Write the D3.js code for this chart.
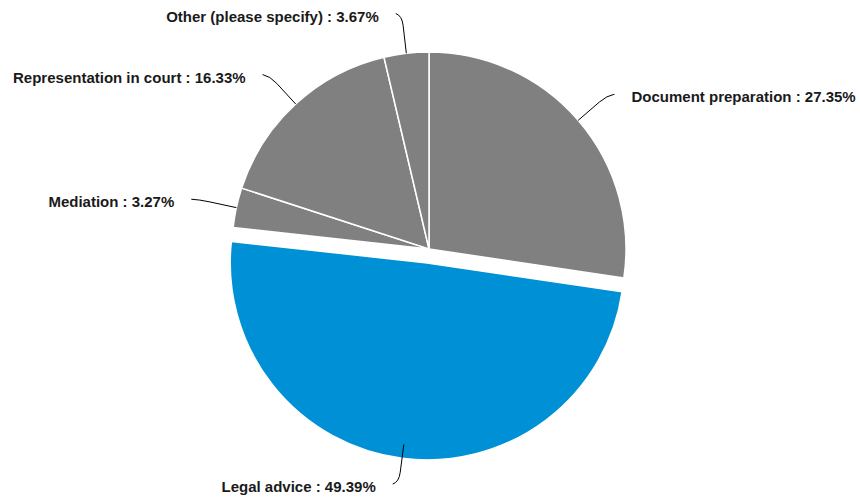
<!DOCTYPE html>
<html>
<head>
<meta charset="utf-8">
<script src="https://cdn.jsdelivr.net/npm/d3@7"></script>
<style>
  html, body { margin: 0; padding: 0; background: #fff; }
  svg text { font-family: "Liberation Sans", Arial, sans-serif; font-weight: bold; font-size: 15px; fill: #1a1a1a; }
</style>
</head>
<body>
<svg id="chart" width="860" height="502"></svg>
<script>
// Service categories and their shares (%)
const categories = [
  "Document preparation",
  "Legal advice",
  "Mediation",
  "Representation in court",
  "Other (please specify)"
];
const shares = [27.35, 49.39, 3.27, 16.33, 3.67];
const highlighted = ["Legal advice"];

const width = 860, height = 502;
const cx = 429, cy = 249, radius = 197;
const explode = 14;

const data = categories.map((c, i) => ({ name: c, value: shares[i] }));

const svg = d3.select("#chart");
const g = svg.append("g").attr("transform", `translate(${cx},${cy})`);

const pie = d3.pie().value(d => d.value).sort(null);
const arc = d3.arc().innerRadius(0).outerRadius(radius);
const arcs = pie(data);

const color = d => highlighted.includes(d.data.name) ? "#0090d6" : "#808080";

// polar point at radius rr along angle a (clockwise from 12 o'clock)
function polar(a, rr) {
  return [Math.sin(a) * rr, -Math.cos(a) * rr];
}

g.selectAll("path.slice")
  .data(arcs)
  .join("path")
  .attr("class", "slice")
  .attr("d", arc)
  .attr("fill", color)
  .attr("stroke", "#fff")
  .attr("stroke-width", 1.5)
  .attr("transform", d => {
    if (!highlighted.includes(d.data.name)) return null;
    const m = (d.startAngle + d.endAngle) / 2;
    const [dx, dy] = polar(m, explode);
    return `translate(${dx},${dy})`;
  });

// Leader lines and labels
const labels = g.selectAll("g.label").data(arcs).join("g").attr("class", "label");

labels.each(function(d) {
  const m = (d.startAngle + d.endAngle) / 2;
  const right = Math.sin(m) > 0;
  const s = right ? 1 : -1;
  const p0 = polar(m, radius);
  const p1 = polar(m, radius + 28);
  const c = polar(m, radius + 38);
  const pe = polar(m, radius + 40);
  const end = [pe[0] + s * 6, pe[1]];
  const sel = d3.select(this);
  const path = d3.path();
  path.moveTo(p0[0], p0[1]);
  path.lineTo(p1[0], p1[1]);
  path.quadraticCurveTo(c[0], c[1], end[0], end[1]);
  sel.append("path")
    .attr("d", path.toString())
    .attr("fill", "none")
    .attr("stroke", "#000")
    .attr("stroke-width", 1);
  sel.append("text")
    .attr("x", end[0] + s * 17)
    .attr("y", end[1] + 3)
    .attr("dy", "0.35em")
    .attr("text-anchor", right ? "start" : "end")
    .text(`${d.data.name} : ${d.data.value.toFixed(2)}%`);
});
</script>
</body>
</html>
